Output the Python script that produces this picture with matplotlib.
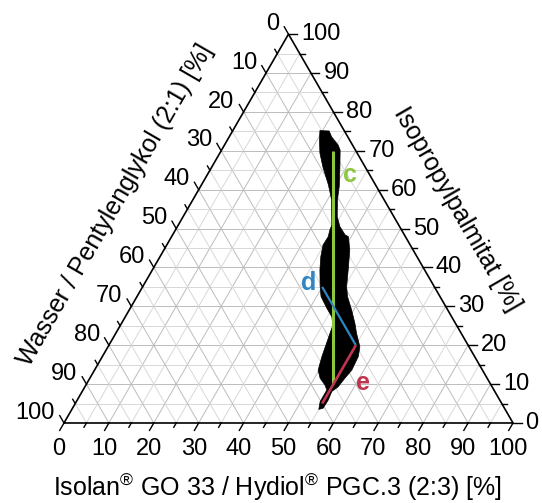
import matplotlib.pyplot as plt
import numpy as np

plt.rcParams['font.family'] = ['Liberation Sans', 'DejaVu Sans']
plt.rcParams['mathtext.fontset'] = 'custom'
plt.rcParams['mathtext.rm'] = 'Liberation Sans'

# compositions in % : Isolan/Hydiol (i), Isopropylpalmitat (p), water = 100 - i - p
region_isolan = [19.4, 21.5, 22.8, 25.3, 26.4, 28.5, 30.9, 32.2, 34.3, 36.2, 38.4, 39.4,
                 41.4, 43.6, 45.4, 46.9, 49.5, 52.0, 53.6, 56.1, 57.0, 57.3, 56.8, 56.4,
                 55.6, 55.9, 55.8, 55.0,
                 54.3, 54.3, 53.2, 51.3, 49.8, 48.9, 47.7, 47.3, 46.0, 43.8, 41.0, 39.5,
                 37.3, 35.8, 34.8, 34.9, 34.4, 34.2, 30.9, 28.3, 24.7, 22.3, 20.5]
region_ipp = [75.2, 75.1, 73.6, 71.5, 70.2, 65.9, 60.8, 57.4, 53.1, 50.5, 48.4, 47.9,
              44.5, 39.4, 35.1, 32.5, 29.1, 25.6, 23.1, 19.6, 17.1, 13.6, 11.5, 9.3,
              8.1, 5.9, 3.8, 3.5,
              5.5, 8.5, 9.8, 11.5, 13.6, 17.1, 23.1, 25.2, 27.3, 29.5, 32.5, 35.1,
              39.4, 42.8, 45.8, 47.9, 49.6, 50.9, 57.4, 61.2, 65.9, 69.4, 72.8]

line_names = ["c", "d", "e"]
line_isolan = [[25, 55], [40, 55], [55, 55]]
line_ipp = [[70, 10], [35, 20], [20, 5]]
line_colors = ["#8dc63f", "#2f86c3", "#c0344f"]
line_widths = [2.2, 1.6, 1.9]
label_pos = [(31.8, 63.8), (36.5, 35.9), (61.6, 10.2)]

ticks = np.arange(0, 101, 5)

h = np.sqrt(3) / 2


def to_xy(i, p):
    i = np.asarray(i, dtype=float)
    p = np.asarray(p, dtype=float)
    return i + p / 2, p * h


fig = plt.figure(figsize=(5.42, 5.03), dpi=100)
ax = fig.add_axes([0, 0, 1, 1])
ax.set_xlim(-14.25, 106.46)
ax.set_ylim(-17.82, 94.21)
ax.axis("off")

# grid every 5 %
for v in ticks[1:-1]:
    col = "#bcbcbc" if v % 10 == 0 else "#d8d8d8"
    for (i0, p0), (i1, p1) in [((v, 0), (v, 100 - v)),          # const isolan
                               ((0, v), (100 - v, v)),          # const ipp
                               ((0, 100 - v), (100 - v, 0))]:   # const water
        x, y = to_xy([i0, i1], [p0, p1])
        ax.plot(x, y, color=col, lw=0.7, zorder=1)

# triangle frame
x, y = to_xy([0, 100, 0, 0], [0, 0, 100, 0])
ax.plot(x, y, color="black", lw=1.2, zorder=3, solid_joinstyle="miter")

# ticks and labels
fs = 17
for v in ticks:
    L = 1.9 if v % 10 == 0 else 1.1
    # bottom: isolan
    x0, y0 = to_xy(v, 0)
    ax.plot([x0, x0 - 0.5 * L], [y0, y0 - h * L], color="black", lw=1.0, zorder=3)
    # right: ipp
    x0, y0 = to_xy(100 - v, v)
    ax.plot([x0, x0 + L], [y0, y0], color="black", lw=1.0, zorder=3)
    # left: water
    x0, y0 = to_xy(0, 100 - v)
    ax.plot([x0, x0 - 0.5 * L], [y0, y0 + h * L], color="black", lw=1.0, zorder=3)
    if v % 10 == 0:
        lab = str(int(v))
        ax.annotate(lab, to_xy(v, 0), xytext=(-3.5, -18.5), textcoords="offset points",
                    ha="center", va="center", fontsize=fs)
        ax.annotate(lab, to_xy(100 - v, v), xytext=(9.0, 0), textcoords="offset points",
                    ha="left", va="center", fontsize=fs)
        ax.annotate(lab, to_xy(0, 100 - v), xytext=(-6.5, 7.5), textcoords="offset points",
                    ha="right", va="center", fontsize=fs)

# axis titles
ax.text(*to_xy(-16.6, 56.0), "Wasser / Pentylenglykol (2:1) [%]", rotation=60,
        ha="center", va="center", fontsize=18)
ax.text(*to_xy(60.0, 55.0), "Isopropylpalmitat [%]", rotation=-60,
        ha="center", va="center", fontsize=18)
ax.text(47.6, -14.3, "Isolan$\\mathregular{^{®}}$ GO 33 / Hydiol$\\mathregular{^{®}}$ PGC.3 (2:3) [%]",
        ha="center", va="center", fontsize=18)

# single phase region
x, y = to_xy(region_isolan, region_ipp)
ax.fill(x, y, color="black", lw=0.5, zorder=4)

# cut lines
for name, li, lp, c, w, pos in zip(line_names, line_isolan, line_ipp, line_colors,
                                   line_widths, label_pos):
    x, y = to_xy(li, lp)
    ax.plot(x, y, color=c, lw=w, zorder=5, solid_capstyle="butt")
    ax.text(*to_xy(*pos), name, color=c, fontsize=18, fontweight="bold",
            ha="center", va="center", zorder=6)

fig.savefig("out.png", dpi=100)
